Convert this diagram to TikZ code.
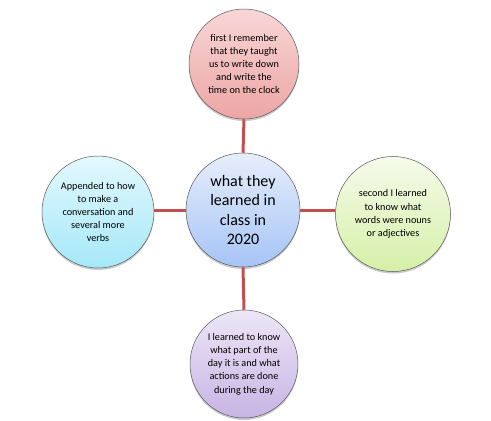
\documentclass[tikz,border=0pt]{standalone}
\usepackage{fontspec}
\setmainfont{Carlito}
\usetikzlibrary{shadows}
\definecolor{linkred}{HTML}{C0504D}
\definecolor{topA}{HTML}{F8D6D6}\definecolor{topB}{HTML}{EDA5A5}
\definecolor{midA}{HTML}{E6EEFB}\definecolor{midB}{HTML}{A6C4F6}
\definecolor{rgtA}{HTML}{F5FBEA}\definecolor{rgtB}{HTML}{D5F0A8}
\definecolor{lftA}{HTML}{E3F8FD}\definecolor{lftB}{HTML}{A5E8F8}
\definecolor{botA}{HTML}{EDE6F6}\definecolor{botB}{HTML}{C7B4E4}
\tikzset{
  bub/.style={circle, draw=black!65, line width=0.5pt, minimum size=112pt, inner sep=0pt,
    align=center, text=black, font=\fontsize{10.2}{13.2}\selectfont,
    drop shadow={shadow xshift=0pt, shadow yshift=-2pt, opacity=0.35, fill=black!60}},
  link/.style={draw=linkred, line width=3pt}
}
\begin{document}
\begin{tikzpicture}[x=1pt,y=-1pt]
\useasboundingbox (0,0) rectangle (491,421);
\node[bub, minimum size=110pt, top color=topA, bottom color=topB] (top) at (244,64)
  {first I remember\\that they taught\\us to write down\\and write the\\time on the clock};
\node[bub, minimum size=114pt, top color=midA, bottom color=midB, font=\fontsize{16}{19.5}\selectfont] (mid) at (243,210)
  {what they\\learned in\\class in\\2020};
\node[bub, minimum size=115pt, top color=rgtA, bottom color=rgtB] (right) at (393,214)
  {second I learned\\to know what\\words were nouns\\or adjectives};
\node[bub, minimum size=112pt, top color=lftA, bottom color=lftB] (left) at (98,212)
  {Appended to how\\to make a\\conversation and\\several more\\verbs};
\node[bub, minimum size=108pt, top color=botA, bottom color=botB] (bot) at (244,364)
  {I learned to know\\what part of the\\day it is and what\\actions are done\\during the day};
\draw[link] (top.south) -- (mid.north);
\draw[link] (mid.south) -- (bot.north);
\draw[link] (left.east |- 0,210) -- (mid.west |- 0,210);
\draw[link] (mid.east |- 0,210) -- (right.west |- 0,210);
\end{tikzpicture}
\end{document}
